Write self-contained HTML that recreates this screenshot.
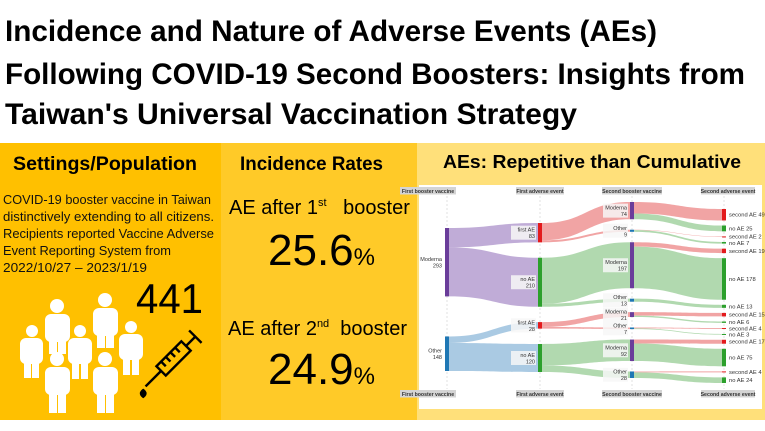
<!DOCTYPE html>
<html><head><meta charset="utf-8"><style>
html,body{margin:0;padding:0;background:#fff;}
svg{display:block;font-family:"Liberation Sans",sans-serif;}
</style></head><body>
<svg id="root" width="765" height="431" viewBox="0 0 765 431" xmlns="http://www.w3.org/2000/svg">
<rect x="0" y="0" width="765" height="431" fill="#ffffff"/>
<g font-weight="bold" font-size="30" fill="#000">
<text x="5" y="41" textLength="652" lengthAdjust="spacingAndGlyphs">Incidence and Nature of Adverse Events (AEs)</text>
<text x="5" y="84" textLength="740" lengthAdjust="spacingAndGlyphs">Following COVID-19 Second Boosters: Insights from</text>
<text x="5" y="124" textLength="572" lengthAdjust="spacingAndGlyphs">Taiwan's Universal Vaccination Strategy</text>
</g>
<g>
<rect x="0" y="143" width="221" height="277" fill="#FFC000"/>
<text x="13" y="170" font-size="19" font-weight="bold" textLength="184" lengthAdjust="spacingAndGlyphs">Settings/Population</text>
<g font-size="13" fill="#111">
<text x="3" y="204" textLength="208" lengthAdjust="spacingAndGlyphs">COVID-19 booster vaccine in Taiwan</text>
<text x="3" y="221" textLength="211" lengthAdjust="spacingAndGlyphs">distinctively extending to all citizens.</text>
<text x="3" y="238" textLength="211" lengthAdjust="spacingAndGlyphs">Recipients reported Vaccine Adverse</text>
<text x="3" y="255" textLength="168" lengthAdjust="spacingAndGlyphs">Event Reporting System from</text>
<text x="3" y="272" textLength="144" lengthAdjust="spacingAndGlyphs">2022/10/27 – 2023/1/19</text>
</g>
<text x="136" y="313" font-size="42" textLength="67" lengthAdjust="spacingAndGlyphs">441</text>
<g fill="#ffffff">
<circle cx="57" cy="306" r="7"/><rect x="45" y="314" width="25" height="28" rx="6"/><rect x="49" y="336" width="8" height="18"/><rect x="58" y="336" width="8" height="18"/>
<circle cx="105" cy="300" r="7"/><rect x="93" y="308" width="25" height="28" rx="6"/><rect x="97" y="330" width="8" height="18"/><rect x="106" y="330" width="8" height="18"/>
<circle cx="32" cy="331" r="6"/><rect x="20" y="338" width="23" height="26" rx="6"/><rect x="24" y="358" width="7" height="20"/><rect x="32" y="358" width="7" height="20"/>
<circle cx="80" cy="331" r="6"/><rect x="68" y="338" width="24" height="26" rx="6"/><rect x="72" y="358" width="7" height="21"/><rect x="81" y="358" width="7" height="21"/>
<circle cx="131" cy="327" r="6"/><rect x="119" y="334" width="24" height="26" rx="6"/><rect x="123" y="354" width="7" height="21"/><rect x="132" y="354" width="7" height="21"/>
<circle cx="57" cy="359" r="7"/><rect x="45" y="367" width="25" height="28" rx="6"/><rect x="49" y="390" width="8" height="23"/><rect x="58" y="390" width="8" height="23"/>
<circle cx="105" cy="359" r="7"/><rect x="93" y="367" width="25" height="28" rx="6"/><rect x="97" y="390" width="8" height="23"/><rect x="106" y="390" width="8" height="23"/>
</g>
<g transform="translate(172,360) rotate(-45) scale(1.1)" fill="none" stroke="#000" stroke-width="2.2">
<rect x="-14" y="-6" width="32" height="12"/>
<line x1="18" y1="0" x2="30" y2="0"/><line x1="30" y1="-8" x2="30" y2="8"/>
<line x1="-14" y1="0" x2="-34" y2="0"/>
<line x1="-8" y1="-6" x2="-8" y2="0"/><line x1="-2" y1="-6" x2="-2" y2="0"/><line x1="4" y1="-6" x2="4" y2="0"/><line x1="10" y1="-6" x2="10" y2="0"/>
<path d="M-40,0 q-4,3 0,6 q4,-3 0,-6z" fill="#000" transform="rotate(45,-40,3)"/>
</g>
</g>
<g>
<rect x="221" y="143" width="196" height="277" fill="#FFCA28"/>
<text x="240" y="170" font-size="19" font-weight="bold" textLength="143" lengthAdjust="spacingAndGlyphs">Incidence Rates</text>
<text x="229" y="214" font-size="20">AE after 1<tspan font-size="11" dy="-8">st</tspan><tspan dy="8" xml:space="preserve">   booster</tspan></text>
<text x="268" y="265" font-size="44">25.6<tspan font-size="24">%</tspan></text>
<text x="228" y="335" font-size="20">AE after 2<tspan font-size="11" dy="-8">nd</tspan><tspan dy="8" xml:space="preserve">  booster</tspan></text>
<text x="268" y="384" font-size="44">24.9<tspan font-size="24">%</tspan></text>
</g>
<g>
<rect x="417" y="143" width="348" height="277" fill="#FFE07A"/>
<text x="443" y="168" font-size="18" font-weight="bold" textLength="298" lengthAdjust="spacingAndGlyphs">AEs: Repetitive than Cumulative</text>
<rect x="419" y="185" width="343" height="224" fill="#ffffff"/>
<g id="sankey"></g>
</g>
</svg>
<script>
const stageNames = ["First booster vaccine","First adverse event","Second booster vaccine","Second adverse event"];
const vaccineLabels = ["Moderna","Other"];
const aeLabels = ["first AE","no AE"];
const secondAeLabels = ["second AE","no AE"];
const stage1Values = [83,210,28,120];
const stage2Values = [74,9,197,13,21,7,92,28];
const stage3Values = [49,25,2,7,19,178,0,13,15,6,4,3,17,75,4,24];

const NS="http://www.w3.org/2000/svg";
const g=document.getElementById('sankey');
function el(tag,attrs,parent){const e=document.createElementNS(NS,tag);for(const k in attrs)e.setAttribute(k,attrs[k]);(parent||g).appendChild(e);return e;}
const colX=[445,538,630,722];
const colTop=[228,223,202,209], colBot=[371,372,378,383];
const nodeW=4;
const stage0Values=[stage1Values[0]+stage1Values[1],stage1Values[2]+stage1Values[3]];
const cols=[stage0Values,stage1Values,stage2Values,stage3Values];
const total=stage0Values[0]+stage0Values[1];
const k=(Math.min(...colBot.map((b,i)=>b-colTop[i]))*0.72)/total;
const layout=cols.map((vals,c)=>{
  const nz=vals.filter(v=>v>0).length;
  const gap=(colBot[c]-colTop[c]-k*total)/Math.max(1,nz-1);
  let y=colTop[c];
  return vals.map(v=>{const n={y:y,h:v*k,v:v};if(v>0)y+=v*k+gap;return n;});
});
for(let c=0;c<4;c++){
  const l=el('line',{x1:colX[c]+nodeW/2,y1:196,x2:colX[c]+nodeW/2,y2:389,stroke:'#ccc','stroke-dasharray':'2,2','stroke-width':0.6});
  
  
}
function linkPath(x0,y0,x1,y1,h){const xm=(x0+x1)/2;return `M${x0},${y0}C${xm},${y0} ${xm},${y1} ${x1},${y1}L${x1},${y1+h}C${xm},${y1+h} ${xm},${y0+h} ${x0},${y0+h}Z`;}
const linkColors=[["#b9a3d3","#a1c4e0"],["#ef9a9a","#a8d5a6"],["#ef9a9a","#a8d5a6"]];
for(let s=0;s<3;s++){
  const src=layout[s],tgt=layout[s+1];
  src.forEach((sn,i)=>{
    let off=0;
    [2*i,2*i+1].forEach((t,j)=>{
      const tn=tgt[t];if(tn.v<=0)return;
      const col = s===2 ? linkColors[2][t%2] : (s===0?linkColors[0][i]:linkColors[1][i%2]);
      const p=el('path',{d:linkPath(colX[s]+nodeW,sn.y+off,colX[s+1],tn.y,tn.h),fill:col,'fill-opacity':0.9});
      
      
      off+=tn.h;
    });
  });
}
const nodeColors=[["#6a3d9a","#1f77b4"],["#e31a1c","#2ca02c"],["#6a3d9a","#1f77b4"],["#e31a1c","#2ca02c"]];
const labelSets=[vaccineLabels,aeLabels,vaccineLabels,secondAeLabels];
layout.forEach((nodes,c)=>{
  nodes.forEach((n,i)=>{
    if(n.v<=0)return;
    const r=el('rect',{x:colX[c],y:n.y,width:nodeW,height:Math.max(n.h,1),fill:nodeColors[c][i%2]});
    
    
    const name=labelSets[c][i%2];
    if(c===3){
      const t=el('text',{x:colX[c]+nodeW+3,y:n.y+n.h/2+2,'font-size':5.8,fill:'#333'});
      t.textContent=name+'  '+n.v;
      
      
    }else{
      const cy=n.y+n.h/2;
      if(c>0){const b=el('rect',{x:colX[c]-27,y:cy-7,width:25,height:14,fill:'#f7f7f7','fill-opacity':0.85});
        
        }
      const t1=el('text',{x:colX[c]-3,y:cy-1,'font-size':5.5,fill:'#333','text-anchor':'end'});t1.textContent=name;
      
      
      const t2=el('text',{x:colX[c]-3,y:cy+5.5,'font-size':5.5,fill:'#333','text-anchor':'end'});t2.textContent=n.v;
      
      
    }
  });
});
const headerW=[56,48,60,54];
[191,394].forEach(yc=>{
  stageNames.forEach((s,c)=>{
    const cx=colX[c]+nodeW/2 + (c===0?-19:(c===3?4:0));
    const b=el('rect',{x:cx-headerW[c]/2,y:yc-4,width:headerW[c],height:7.5,fill:'#d4d4d4'});
    
    
    const t=el('text',{x:cx,y:yc+2,'font-size':5.2,'font-weight':'bold',fill:'#333','text-anchor':'middle'});
    t.textContent=s;
    
    
  });
});
</script>
</body></html>
